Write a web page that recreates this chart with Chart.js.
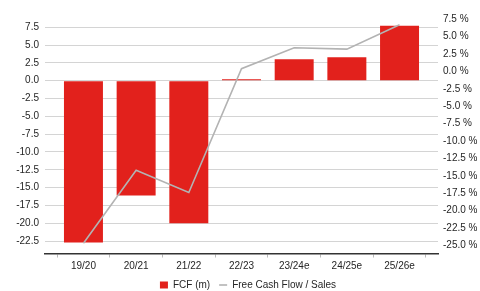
<!DOCTYPE html>
<html><head><meta charset="utf-8">
<script src="https://cdn.jsdelivr.net/npm/chart.js@4/dist/chart.umd.min.js"></script>
<style>html,body{margin:0;padding:0;background:#fff;}canvas{display:block;}</style>
</head><body>
<canvas id="c" width="480" height="291"></canvas>
<script>
const categories = ['19/20', '20/21', '21/22', '22/23', '23/24e', '24/25e', '25/26e'];
const fcfValues = [-22.7, -16.1, -20.0, 0.2, 3.0, 3.3, 7.7];
const fcfSalesValues = [-24.7, -14.2, -17.4, 0.4, 3.4, 3.2, 6.7];
const leftTicks = [7.5, 5.0, 2.5, 0.0, -2.5, -5.0, -7.5, -10.0, -12.5, -15.0, -17.5, -20.0, -22.5];
const rightTicks = [7.5, 5.0, 2.5, 0.0, -2.5, -5.0, -7.5, -10.0, -12.5, -15.0, -17.5, -20.0, -22.5, -25.0];
const seriesNames = ['FCF (m)', 'Free Cash Flow / Sales'];

const RED = '#e2211c';
const GREY_LINE = '#b3b3b3';
const TEXT = '#262626';
Chart.defaults.font = { family: "'Liberation Sans', Arial, sans-serif", size: 10 };
Chart.defaults.color = TEXT;

const legendShift = {
  id: 'legendShift',
  afterLayout(chart) {
    const lg = chart.legend;
    if (lg) { lg.left += 8; lg.right += 8; }
  }
};

new Chart(document.getElementById('c'), {
  type: 'bar',
  plugins: [legendShift],
  data: {
    datasets: [
      {
        type: 'bar', label: seriesNames[0],
        data: fcfValues.map((v, i) => ({ x: i, y: v })),
        backgroundColor: RED, borderWidth: 0, yAxisID: 'y',
        barPercentage: 0.74, categoryPercentage: 1, order: 1
      },
      {
        type: 'line', label: seriesNames[1],
        data: fcfSalesValues.map((v, i) => ({ x: i, y: v })),
        borderColor: GREY_LINE, borderWidth: 1.6, pointRadius: 0, tension: 0,
        fill: false, yAxisID: 'y1', order: 0
      }
    ]
  },
  options: {
    responsive: false, animation: false, devicePixelRatio: 1,
    layout: { padding: { top: 10, left: 0, right: 0, bottom: 0 } },
    scales: {
      x: {
        type: 'linear', min: -0.73, max: 6.73, offset: false,
        afterBuildTicks: s => { s.ticks = categories.map((c, i) => ({ value: i })); },
        afterFit: s => { s.height = 17.5; },
        ticks: { callback: v => categories[v], padding: 3, maxRotation: 0, autoSkip: false, color: TEXT },
        grid: { drawOnChartArea: false, drawTicks: true, tickLength: 4, tickColor: '#bbb' },
        border: { display: true, color: '#333', width: 1.5 }
      },
      y: {
        position: 'left', min: -24.24, max: 9.64,
        afterBuildTicks: s => { s.ticks = leftTicks.map(v => ({ value: v })); },
        afterFit: s => { s.width = 45; },
        ticks: { callback: v => v.toFixed(1), padding: 6, color: TEXT },
        grid: { color: '#d4d4d4', lineWidth: 1, drawTicks: false },
        border: { display: false }
      },
      y1: {
        position: 'right', min: -26.17, max: 8.54,
        afterBuildTicks: s => { s.ticks = rightTicks.map(v => ({ value: v })); },
        afterFit: s => { s.width = 42; },
        ticks: { callback: v => v.toFixed(1) + ' %', padding: 5, color: TEXT },
        grid: { drawOnChartArea: false, drawTicks: false },
        border: { display: false }
      }
    },
    plugins: {
      tooltip: { enabled: false },
      legend: {
        position: 'bottom', maxHeight: 20,
        labels: {
          usePointStyle: true, pointStyleWidth: 8, boxHeight: 7, padding: 9, color: TEXT,
          sort: (a, b) => a.datasetIndex - b.datasetIndex,
          generateLabels: chart => {
            const items = Chart.defaults.plugins.legend.labels.generateLabels(chart);
            items.forEach(it => {
              if (it.datasetIndex === 0) { it.pointStyle = 'rect'; it.fillStyle = RED; it.lineWidth = 0; }
              else { it.pointStyle = 'line'; it.strokeStyle = GREY_LINE; it.lineWidth = 1.6; }
            });
            return items;
          }
        }
      }
    }
  }
});
</script>
</body></html>
